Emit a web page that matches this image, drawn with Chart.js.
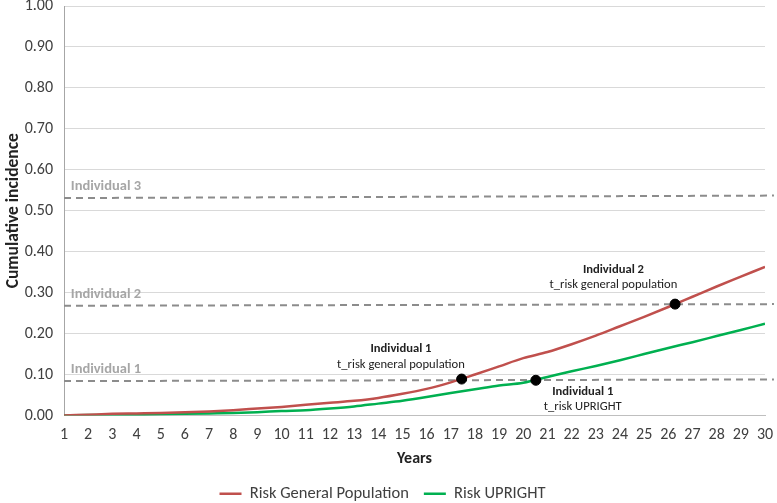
<!DOCTYPE html>
<html>
<head>
<meta charset="utf-8">
<script src="https://cdn.jsdelivr.net/npm/chart.js@4/dist/chart.umd.min.js"></script>
<style>
  html, body { margin: 0; padding: 0; background: #fff; }
  #wrap { width: 777px; height: 503px; }
</style>
</head>
<body>
<div id="wrap"><canvas id="chart"></canvas></div>
<script>
// years on the x axis
const years = [1, 2, 3, 4, 5, 6, 7, 8, 9, 10, 11, 12, 13, 14, 15, 16, 17, 18, 19, 20, 21, 22, 23, 24, 25, 26, 27, 28, 29, 30];
// cumulative incidence
const riskGeneral = [0.000, 0.002, 0.004, 0.005, 0.006, 0.008, 0.010, 0.013, 0.017, 0.021, 0.026, 0.031, 0.036, 0.043, 0.053, 0.065, 0.081, 0.100, 0.120, 0.140, 0.155, 0.174, 0.195, 0.218, 0.241, 0.265, 0.290, 0.315, 0.339, 0.363];
const riskUpright = [0.000, 0.001, 0.002, 0.002, 0.003, 0.004, 0.005, 0.006, 0.008, 0.011, 0.013, 0.017, 0.022, 0.029, 0.036, 0.045, 0.055, 0.064, 0.073, 0.080, 0.094, 0.108, 0.121, 0.135, 0.150, 0.165, 0.179, 0.194, 0.209, 0.224];

// individual thresholds (dashed lines)
const individualNames = ['Individual 1', 'Individual 2', 'Individual 3'];
const thresholdStart = [0.084, 0.268, 0.531];
const thresholdEnd = [0.088, 0.272, 0.537];
const thresholdYears = [1, 30.37];

// crossing points
const crossYears = [17.45, 20.52, 26.28];
const crossRisk = [0.089, 0.086, 0.272];

// y ticks
const yTicks = [0, 0.1, 0.2, 0.3, 0.4, 0.5, 0.6, 0.7, 0.8, 0.9, 1.0];

const FONT = "Carlito, Lato, 'Open Sans', sans-serif";

// text notes, positioned in data units
const notes = [
  { x: 1.28, y: 0.113, text: 'Individual 1', bold: true, color: '#a6a6a6', align: 'left', size: 14.5 },
  { x: 1.28, y: 0.297, text: 'Individual 2', bold: true, color: '#a6a6a6', align: 'left', size: 14.5 },
  { x: 1.28, y: 0.560, text: 'Individual 3', bold: true, color: '#a6a6a6', align: 'left', size: 14.5 },
  { x: 14.94, y: 0.162, text: 'Individual 1', bold: true, color: '#222', align: 'center', size: 12.6 },
  { x: 14.94, y: 0.124, text: 't_risk general population', bold: false, color: '#222', align: 'center', size: 12.6 },
  { x: 23.73, y: 0.355, text: 'Individual 2', bold: true, color: '#222', align: 'center', size: 12.6 },
  { x: 23.73, y: 0.319, text: 't_risk general population', bold: false, color: '#222', align: 'center', size: 12.6 },
  { x: 22.46, y: 0.058, text: 'Individual 1', bold: true, color: '#222', align: 'center', size: 12.6 },
  { x: 22.46, y: 0.022, text: 't_risk UPRIGHT', bold: false, color: '#222', align: 'center', size: 12.6 }
];

const notePlugin = {
  id: 'notes',
  afterDatasetsDraw(chart) {
    const ctx = chart.ctx;
    const xs = chart.scales.x, ys = chart.scales.y;
    ctx.save();
    ctx.textBaseline = 'middle';
    notes.forEach(n => {
      ctx.font = (n.bold ? 'bold ' : '') + n.size + 'px ' + FONT;
      ctx.fillStyle = n.color;
      ctx.textAlign = n.align;
      ctx.fillText(n.text, xs.getPixelForValue(n.x), ys.getPixelForValue(n.y));
    });
    ctx.restore();
  }
};

const datasets = [];
individualNames.forEach((name, i) => {
  datasets.push({
    label: name,
    data: [{ x: thresholdYears[0], y: thresholdStart[i] }, { x: thresholdYears[1], y: thresholdEnd[i] }],
    borderColor: '#8c8c8c',
    borderWidth: 2,
    borderDash: [7, 5],
    pointRadius: 0,
    showLine: true,
    clip: false,
    order: 3
  });
});
datasets.push({
  label: 'Risk General Population',
  data: years.map((x, i) => ({ x: x, y: riskGeneral[i] })),
  borderColor: '#c0504d',
  backgroundColor: '#c0504d',
  borderWidth: 2.5,
  pointRadius: 0,
  showLine: true,
  cubicInterpolationMode: 'monotone',
  order: 2
});
datasets.push({
  label: 'Risk UPRIGHT',
  data: years.map((x, i) => ({ x: x, y: riskUpright[i] })),
  borderColor: '#00b050',
  backgroundColor: '#00b050',
  borderWidth: 2.5,
  pointRadius: 0,
  showLine: true,
  cubicInterpolationMode: 'monotone',
  order: 2
});
datasets.push({
  label: 'crossings',
  data: crossYears.map((x, i) => ({ x: x, y: crossRisk[i] })),
  backgroundColor: '#000',
  borderColor: '#000',
  pointRadius: 5,
  showLine: false,
  order: 0
});

new Chart(document.getElementById('chart'), {
  type: 'scatter',
  data: { datasets: datasets },
  options: {
    responsive: true,
    maintainAspectRatio: false,
    animation: false,
    layout: { padding: { left: 0, right: 12, top: 6, bottom: -9 } },
    plugins: {
      tooltip: { enabled: false },
      legend: {
        position: 'bottom',
        labels: {
          filter: item => item.text.startsWith('Risk'),
          usePointStyle: true,
          pointStyle: 'line',
          pointStyleWidth: 22,
          padding: 15,
          color: '#404040',
          font: { family: FONT, size: 16.5 }
        }
      }
    },
    scales: {
      x: {
        type: 'linear',
        min: 1,
        max: 30,
        afterBuildTicks: scale => { scale.ticks = years.map(v => ({ value: v })); },
        afterFit: scale => { scale.height = 55; },
        grid: { display: false },
        border: { color: '#bfbfbf', width: 1 },
        ticks: { color: '#404040', padding: 2, font: { family: FONT, size: 16 } },
        title: { display: true, text: 'Years', color: '#222', font: { family: FONT, size: 16, weight: 'bold' }, padding: { top: 2, bottom: 2 } }
      },
      y: {
        min: 0,
        max: 1,
        afterBuildTicks: scale => { scale.ticks = yTicks.map(v => ({ value: v })); },
        afterFit: scale => { scale.width = 64; scale.paddingTop = 0; scale.paddingBottom = 0; },
        grid: { color: '#d9d9d9', drawTicks: false },
        border: { color: '#a6a6a6', width: 1 },
        ticks: { color: '#404040', padding: 11, font: { family: FONT, size: 16 }, callback: v => v.toFixed(2) },
        title: { display: true, text: 'Cumulative incidence', color: '#222', font: { family: FONT, size: 17.5, weight: 'bold' }, padding: { top: 3, bottom: 0 } }
      }
    }
  },
  plugins: [notePlugin]
});
</script>
</body>
</html>
